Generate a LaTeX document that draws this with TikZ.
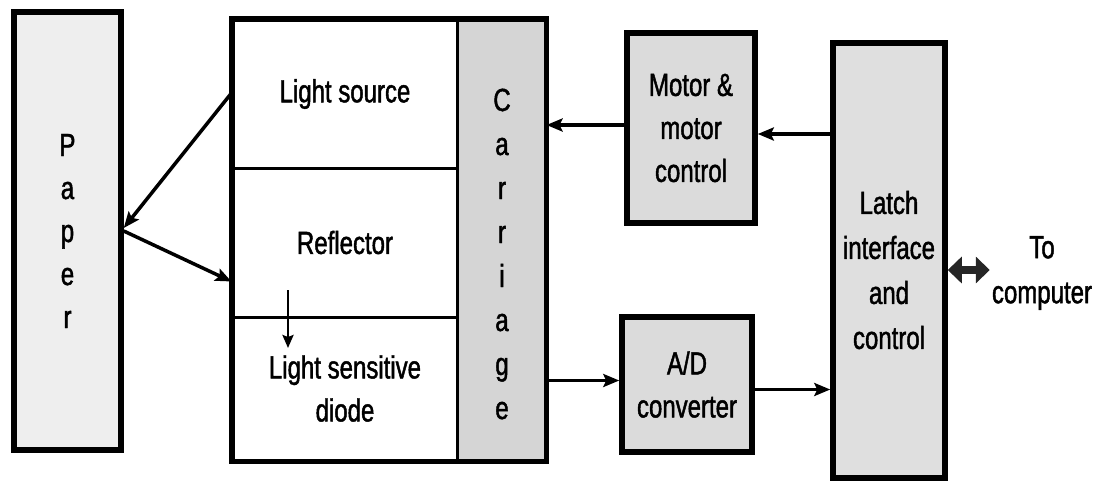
\documentclass[tikz,border=0pt]{standalone}
\usepackage{fontspec}
\setmainfont[FakeStretch=0.75,FakeBold=1.4]{Liberation Sans}
\usetikzlibrary{arrows.meta,calc}
\tikzset{
  txt/.style={font=\fontsize{32}{43}\selectfont, align=center, inner sep=0pt},
  blk/.style={rectangle, inner sep=0pt, draw, line width=5.5pt},
  cell/.style={rectangle, inner sep=0pt, draw, line width=3pt, txt},
  conn/.style={line width=3.5pt, -{Stealth[length=16pt,width=13pt,inset=3pt]}},
}
\begin{document}
\begin{tikzpicture}[x=1pt,y=-1pt]
\useasboundingbox (0,0) rectangle (1099,490);
% Paper
\node[blk, fill=gray!13, minimum width=107pt, minimum height=438pt, txt] (paper) at (67.5,231) {P\\a\\p\\e\\r};
% Carriage assembly
\node[cell, minimum width=224pt, minimum height=148pt] (ls) at (345,94) {Light source};
\node[cell, minimum width=224pt, minimum height=149pt] (refl) at (345,242.5) {Reflector};
\node[cell, minimum width=224pt, minimum height=143pt] (lsd) at (345,388.5) {Light sensitive\\diode};
\node[rectangle, inner sep=0pt, draw, line width=3pt, fill=gray!33, minimum width=88pt, minimum height=440pt] (carr) at (501,240) {};
\node[txt, font=\fontsize{32}{44}\selectfont] (carrlbl) at (502,254) {C\\a\\r\\r\\i\\a\\g\\e};
\draw[line width=5.5pt] (ls.north west) rectangle (carr.south east);
% Motor
\node[blk, fill=gray!28, minimum width=128pt, minimum height=190pt, txt] (motor) at (691,128) {Motor \&\\motor\\control};
% A/D
\node[blk, fill=gray!28, minimum width=130pt, minimum height=135pt, txt] (ad) at (687,384.5) {A/D\\converter};
% Latch
\node[blk, fill=gray!25, minimum width=112pt, minimum height=435pt] (latch) at (889,260.5) {};
\node[txt, font=\fontsize{32}{45}\selectfont] (latchlbl) at (889,270) {Latch\\interface\\and\\control};
% To computer
\node[txt, font=\fontsize{32}{45}\selectfont] (tocomp) at (1042,273) {To\\computer};
% coordinates
\coordinate (lsout) at ([yshift=1pt]ls.west);
\coordinate (papin) at ([yshift=3pt]paper.east);
\coordinate (papout) at (paper.east);
\coordinate (reflin) at ([yshift=37pt]refl.south west);
\coordinate (da) at (288,290);
\coordinate (db) at (288,348);
\coordinate (motin) at ([yshift=-6pt]motor.east);
\coordinate (motout) at ([yshift=3pt]motor.west);
\coordinate (adin) at ([yshift=4pt]ad.west);
\coordinate (adout) at ([yshift=-5pt]ad.east);
\coordinate (compend) at ([xshift=-2pt,yshift=3pt]tocomp.west);
% connectors
\draw[conn] (lsout) -- (papin);
\draw[conn] (papout) -- (reflin);
\draw[line width=2.5pt, -{Stealth[length=13pt,width=11pt,inset=2pt]}] (da) -- (db);
\draw[conn] (motout) -- (motout -| carr.east);
\draw[conn] (latch.west |- motin) -- (motin);
\draw[conn] (carr.east |- adin) -- (adin);
\draw[conn] (adout) -- (adout -| latch.west);
\draw[line width=8pt, black!85, {Triangle[length=14pt,width=26pt]}-{Triangle[length=14pt,width=26pt]}] (latch.east |- compend) -- (compend);
\end{tikzpicture}
\end{document}
